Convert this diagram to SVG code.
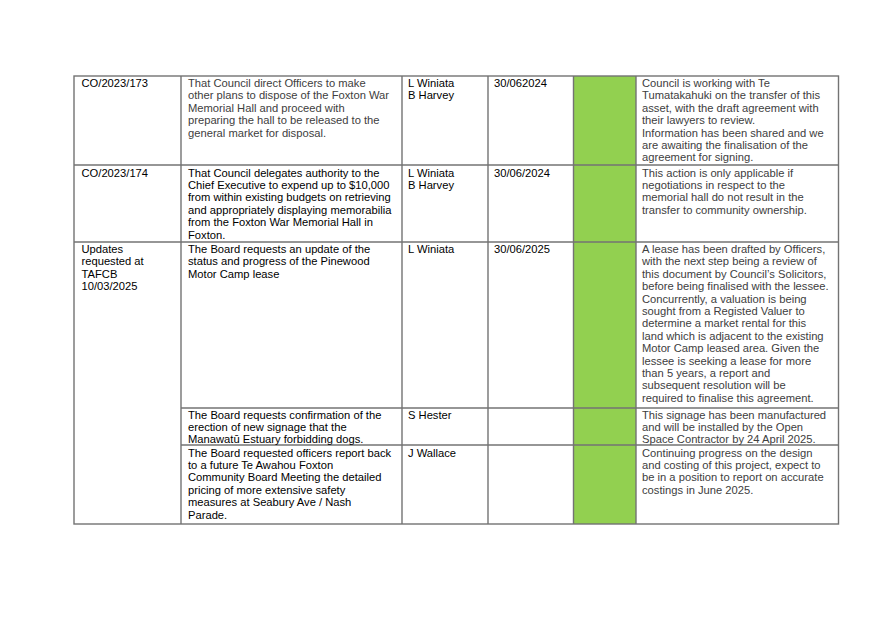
<svg xmlns="http://www.w3.org/2000/svg" width="875" height="618" viewBox="0 0 875 618">
<style>
  text { font-family: "Liberation Sans", Arial, sans-serif; font-size: 11.2px; fill: #000; }
  .g { fill: #404040; }
  .grid { stroke: #737373; stroke-width: 1.4; fill: none; }
</style>
<rect x="0" y="0" width="875" height="618" fill="#fff"/>
<g id="status-fill">
  <rect x="573.5" y="76" width="62.5" height="448" fill="#92D050"/>
</g>
<g id="connectors" class="grid">
  <rect x="74" y="76" width="764.5" height="448"/>
  <line x1="181" y1="76" x2="181" y2="524"/>
  <line x1="402" y1="76" x2="402" y2="524"/>
  <line x1="488" y1="76" x2="488" y2="524"/>
  <line x1="573.5" y1="76" x2="573.5" y2="524"/>
  <line x1="636" y1="76" x2="636" y2="524"/>
  <line x1="74" y1="165" x2="838.5" y2="165"/>
  <line x1="74" y1="242" x2="838.5" y2="242"/>
  <line x1="181" y1="408" x2="838.5" y2="408"/>
  <line x1="181" y1="445" x2="838.5" y2="445"/>
</g>
<g id="row1">
  <text x="81.5" y="87">CO/2023/173</text>
  <text class="g" x="188" y="87"><tspan x="188">That Council direct Officers to make</tspan><tspan x="188" dy="12.4">other plans to dispose of the Foxton War</tspan><tspan x="188" dy="12.4">Memorial Hall and proceed with</tspan><tspan x="188" dy="12.4">preparing the hall to be released to the</tspan><tspan x="188" dy="12.4">general market for disposal.</tspan></text>
  <text x="408" y="87"><tspan x="408">L Winiata</tspan><tspan x="408" dy="12.4">B Harvey</tspan></text>
  <text x="494" y="87">30/062024</text>
  <text class="g" x="642" y="87"><tspan x="642">Council is working with Te</tspan><tspan x="642" dy="12.4">Tumatakahuki on the transfer of this</tspan><tspan x="642" dy="12.4">asset, with the draft agreement with</tspan><tspan x="642" dy="12.4">their lawyers to review.</tspan><tspan x="642" dy="12.4">Information has been shared and we</tspan><tspan x="642" dy="12.4">are awaiting the finalisation of the</tspan><tspan x="642" dy="12.4">agreement for signing.</tspan></text>
</g>
<g id="row2">
  <text x="81.5" y="176.5">CO/2023/174</text>
  <text x="188" y="176.5"><tspan x="188">That Council delegates authority to the</tspan><tspan x="188" dy="12.4">Chief Executive to expend up to $10,000</tspan><tspan x="188" dy="12.4">from within existing budgets on retrieving</tspan><tspan x="188" dy="12.4">and appropriately displaying memorabilia</tspan><tspan x="188" dy="12.4">from the Foxton War Memorial Hall in</tspan><tspan x="188" dy="12.4">Foxton.</tspan></text>
  <text x="408" y="176.5"><tspan x="408">L Winiata</tspan><tspan x="408" dy="12.4">B Harvey</tspan></text>
  <text x="494" y="176.5">30/06/2024</text>
  <text class="g" x="642" y="176.5"><tspan x="642">This action is only applicable if</tspan><tspan x="642" dy="12.4">negotiations in respect to the</tspan><tspan x="642" dy="12.4">memorial hall do not result in the</tspan><tspan x="642" dy="12.4">transfer to community ownership.</tspan></text>
</g>
<g id="row3">
  <text x="81.5" y="253"><tspan x="81.5">Updates</tspan><tspan x="81.5" dy="12.4">requested at</tspan><tspan x="81.5" dy="12.4">TAFCB</tspan><tspan x="81.5" dy="12.4">10/03/2025</tspan></text>
  <text x="188" y="253"><tspan x="188">The Board requests an update of the</tspan><tspan x="188" dy="12.4">status and progress of the Pinewood</tspan><tspan x="188" dy="12.4">Motor Camp lease</tspan></text>
  <text x="408" y="253">L Winiata</text>
  <text x="494" y="253">30/06/2025</text>
  <text class="g" x="642" y="253"><tspan x="642">A lease has been drafted by Officers,</tspan><tspan x="642" dy="12.4">with the next step being a review of</tspan><tspan x="642" dy="12.4">this document by Council’s Solicitors,</tspan><tspan x="642" dy="12.4">before being finalised with the lessee.</tspan><tspan x="642" dy="12.4">Concurrently, a valuation is being</tspan><tspan x="642" dy="12.4">sought from a Registed Valuer to</tspan><tspan x="642" dy="12.4">determine a market rental for this</tspan><tspan x="642" dy="12.4">land which is adjacent to the existing</tspan><tspan x="642" dy="12.4">Motor Camp leased area. Given the</tspan><tspan x="642" dy="12.4">lessee is seeking a lease for more</tspan><tspan x="642" dy="12.4">than 5 years, a report and</tspan><tspan x="642" dy="12.4">subsequent resolution will be</tspan><tspan x="642" dy="12.4">required to finalise this agreement.</tspan></text>
</g>
<g id="row4">
  <text x="188" y="418.5"><tspan x="188">The Board requests confirmation of the</tspan><tspan x="188" dy="12.4">erection of new signage that the</tspan><tspan x="188" dy="12.4">Manawatū Estuary forbidding dogs.</tspan></text>
  <text x="408" y="418.5">S Hester</text>
  <text class="g" x="642" y="418.5"><tspan x="642">This signage has been manufactured</tspan><tspan x="642" dy="12.4">and will be installed by the Open</tspan><tspan x="642" dy="12.4">Space Contractor by 24 April 2025.</tspan></text>
</g>
<g id="row5">
  <text x="188" y="456.5"><tspan x="188">The Board requested officers report back</tspan><tspan x="188" dy="12.4">to a future Te Awahou Foxton</tspan><tspan x="188" dy="12.4">Community Board Meeting the detailed</tspan><tspan x="188" dy="12.4">pricing of more extensive safety</tspan><tspan x="188" dy="12.4">measures at Seabury Ave / Nash</tspan><tspan x="188" dy="12.4">Parade.</tspan></text>
  <text x="408" y="456.5">J Wallace</text>
  <text class="g" x="642" y="456.5"><tspan x="642">Continuing progress on the design</tspan><tspan x="642" dy="12.4">and costing of this project, expect to</tspan><tspan x="642" dy="12.4">be in a position to report on accurate</tspan><tspan x="642" dy="12.4">costings in June 2025.</tspan></text>
</g>
</svg>
